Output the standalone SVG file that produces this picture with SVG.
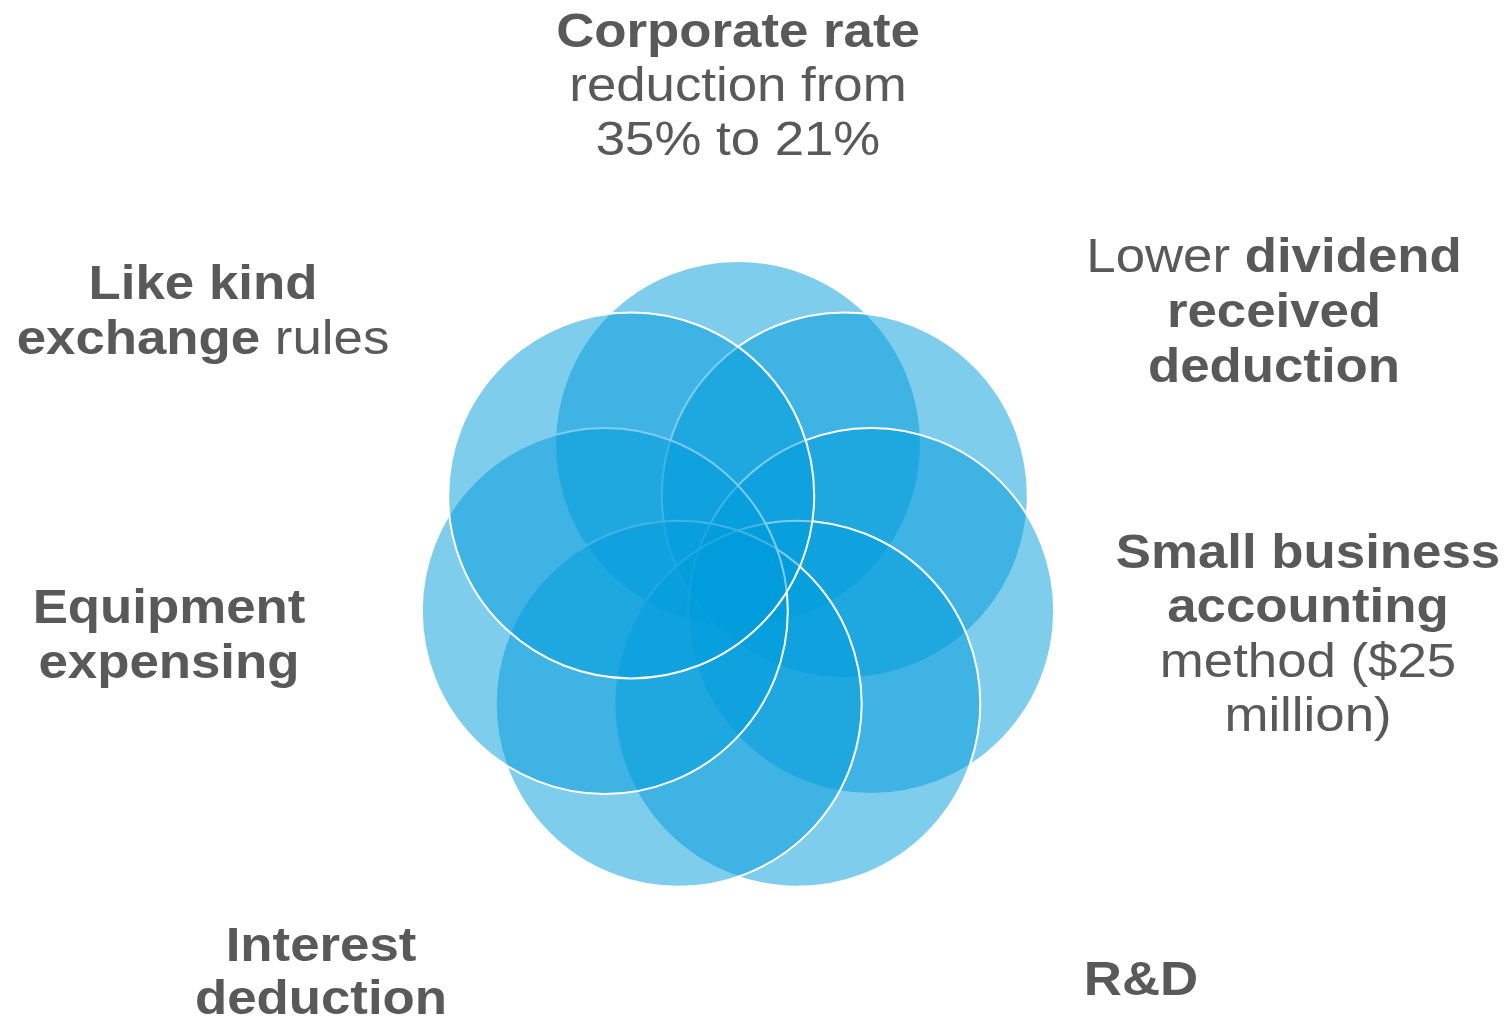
<svg xmlns="http://www.w3.org/2000/svg" width="1509" height="1025" viewBox="0 0 1509 1025">
<style>
.c{fill:#009BDC;fill-opacity:0.5;stroke:#ffffff;stroke-width:2}
.t{font-family:"Liberation Sans",Arial,Helvetica,sans-serif;font-size:48px;fill:#595959;text-anchor:middle}
.b{font-weight:bold}
</style>
<rect width="1509" height="1025" fill="#ffffff"/>
<g id="circles">
<circle id="c-top" class="c" cx="738" cy="444" r="183"/>
<circle id="c-topright" class="c" cx="844.8" cy="495.4" r="183"/>
<circle id="c-right" class="c" cx="871.2" cy="611" r="183"/>
<circle id="c-bottomright" class="c" cx="797.3" cy="703.7" r="183"/>
<circle id="c-bottomleft" class="c" cx="678.7" cy="703.7" r="183"/>
<circle id="c-left" class="c" cx="604.8" cy="611" r="183"/>
<circle id="c-topleft" class="c" cx="631.2" cy="495.4" r="183"/>
</g>
<g id="label-corporate" transform="translate(738 0) scale(1.1 1)">
<text class="t"><tspan x="0" y="47" class="b">Corporate rate</tspan><tspan x="0" y="101">reduction from</tspan><tspan x="0" y="155">35% to 21%</tspan></text>
</g>
<g id="label-dividend" transform="translate(1274 0) scale(1.1 1)">
<text class="t"><tspan x="0" y="272">Lower <tspan class="b">dividend</tspan></tspan><tspan x="0" y="327" class="b">received</tspan><tspan x="0" y="382" class="b">deduction</tspan></text>
</g>
<g id="label-likekind" transform="translate(203 0) scale(1.1 1)">
<text class="t"><tspan x="0" y="299" class="b">Like kind</tspan><tspan x="0" y="354"><tspan class="b">exchange</tspan> rules</tspan></text>
</g>
<g id="label-smallbiz" transform="translate(1308 0) scale(1.1 1)">
<text class="t"><tspan x="0" y="568" class="b">Small business</tspan><tspan x="0" y="622" class="b">accounting</tspan><tspan x="0" y="677">method ($25</tspan><tspan x="0" y="731">million)</tspan></text>
</g>
<g id="label-equipment" transform="translate(169 0) scale(1.1 1)">
<text class="t"><tspan x="0" y="623" class="b">Equipment</tspan><tspan x="0" y="678" class="b">expensing</tspan></text>
</g>
<g id="label-interest" transform="translate(321 0) scale(1.1 1)">
<text class="t"><tspan x="0" y="961" class="b">Interest</tspan><tspan x="0" y="1014" class="b">deduction</tspan></text>
</g>
<g id="label-rd" transform="translate(1141 0) scale(1.1 1)">
<text class="t"><tspan x="0" y="995" class="b">R&amp;D</tspan></text>
</g>
</svg>
